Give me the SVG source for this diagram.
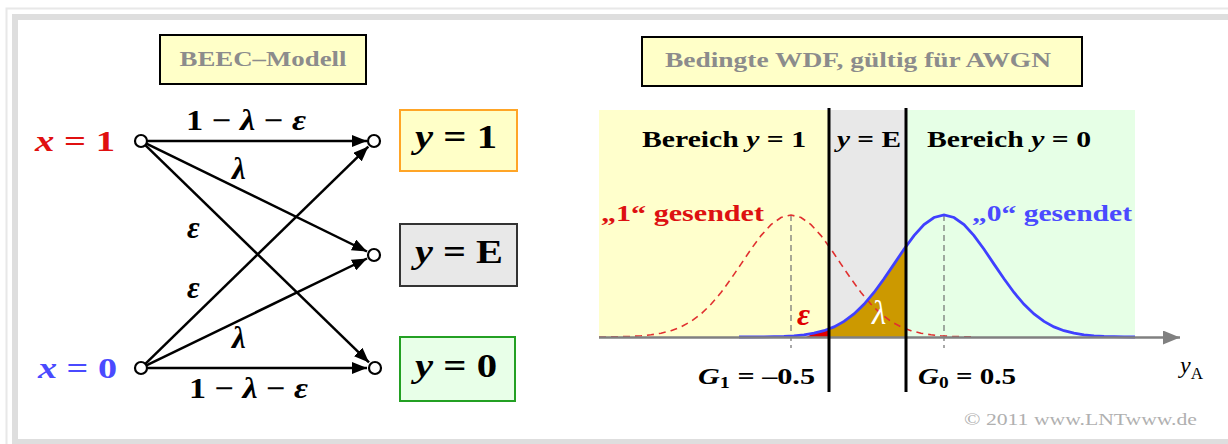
<svg xmlns="http://www.w3.org/2000/svg" width="1228" height="444" viewBox="0 0 1228 444">
<style>
text{font-family:"Liberation Serif","Times New Roman",serif;font-weight:bold}
.it{font-style:italic}
.ttl{fill:#8c8c8c;font-size:22px}
.lbl{font-size:26px;fill:#000}
.gk{font-size:31px;fill:#000;font-style:italic}
.out{font-size:33px;fill:#000}
.edge{stroke:#000;stroke-width:2.5;fill:none;marker-end:url(#ah)}
.node{fill:#fff;stroke:#000;stroke-width:2.2}
.reg{font-size:24px;fill:#000}
</style>
<defs>
<marker id="ah" markerUnits="userSpaceOnUse" markerWidth="16" markerHeight="12" refX="15" refY="6" orient="auto">
<path d="M0,0 L15,6 L0,12 Z" fill="#000"/>
</marker>
<marker id="axh" markerUnits="userSpaceOnUse" markerWidth="18" markerHeight="14" refX="17" refY="7" orient="auto">
<path d="M0,0 L17,7 L0,14 Z" fill="#808080"/>
</marker>
</defs>
<rect width="1228" height="444" fill="#fff"/>
<g id="frame">
<path d="M6.5,444 V8.5 H1228" fill="none" stroke="#e8e8e8" stroke-width="2"/>
<rect x="15" y="17" width="1230" height="425" fill="none" stroke="#dedede" stroke-width="6"/>
</g>

<g id="title-beec">
<rect x="160" y="35" width="206" height="49" fill="#ffffc8" stroke="#000" stroke-width="2"/>
<text x="263" y="66" text-anchor="middle" class="ttl" textLength="167" lengthAdjust="spacingAndGlyphs">BEEC–Modell</text>
</g>

<g id="x1">
<text x="35" y="151" font-size="30" fill="#e01010" textLength="80" lengthAdjust="spacingAndGlyphs"><tspan class="it">x</tspan> = 1</text>
<circle cx="141" cy="141" r="6" class="node"/>
</g>
<g id="x0">
<text x="38" y="378" font-size="30" fill="#4a4aff" textLength="79" lengthAdjust="spacingAndGlyphs"><tspan class="it">x</tspan> = 0</text>
<circle cx="141" cy="368" r="6" class="node"/>
</g>

<g id="y1">
<circle cx="374" cy="141" r="6" class="node"/>
<rect x="400" y="110" width="117" height="61" fill="#ffffc8" stroke="#ffa526" stroke-width="2"/>
<text x="415" y="148" class="out" textLength="82" lengthAdjust="spacingAndGlyphs"><tspan class="it">y</tspan> = 1</text>
</g>
<g id="yE">
<circle cx="374" cy="255" r="6" class="node"/>
<rect x="400" y="224" width="117" height="62" fill="#e8e8e8" stroke="#333" stroke-width="2"/>
<text x="415" y="263" class="out" textLength="88" lengthAdjust="spacingAndGlyphs"><tspan class="it">y</tspan> = E</text>
</g>
<g id="y0">
<circle cx="375" cy="368" r="6" class="node"/>
<rect x="400" y="337" width="115" height="64" fill="#e8ffe8" stroke="#23a023" stroke-width="2"/>
<text x="415" y="377" class="out" textLength="82" lengthAdjust="spacingAndGlyphs"><tspan class="it">y</tspan> = 0</text>
</g>

<g id="connectors">
<path class="edge" d="M147,141 L367,141"/>
<path class="edge" d="M146.4,143.6 L367,251.5"/>
<path class="edge" d="M145.3,145.2 L369,362.4"/>
<path class="edge" d="M145.3,363.8 L368.3,146.6"/>
<path class="edge" d="M146.4,365.4 L367,258.5"/>
<path class="edge" d="M147,368 L367,368"/>
</g>

<g id="edge-labels">
<text x="186" y="130" font-size="29" fill="#000" textLength="120" lengthAdjust="spacingAndGlyphs">1 − <tspan class="it">λ</tspan> − <tspan class="it">ε</tspan></text>
<text x="232" y="179" class="gk">λ</text>
<text x="187" y="238" class="gk">ε</text>
<text x="187" y="298" class="gk">ε</text>
<text x="232" y="348" class="gk">λ</text>
<text x="189" y="398" font-size="29" fill="#000" textLength="119" lengthAdjust="spacingAndGlyphs">1 − <tspan class="it">λ</tspan> − <tspan class="it">ε</tspan></text>
</g>

<g id="title-wdf">
<rect x="642" y="37" width="440" height="49" fill="#ffffc8" stroke="#000" stroke-width="2"/>
<text x="665" y="67" class="ttl" textLength="386" lengthAdjust="spacingAndGlyphs">Bedingte WDF, gültig für AWGN</text>
</g>

<g id="plot">
<rect x="599" y="110" width="230" height="227" fill="#ffffcc"/>
<rect x="829" y="110" width="77" height="227" fill="#e8e8e8"/>
<rect x="906" y="110" width="229" height="227" fill="#e6ffe6"/>
<path d="M829,337 L829,328.8 L834,326.9 L844,321.4 L854,314 L864,304.3 L874,292.5 L884,278.8 L894,264.1 L904,249.2 L906,246.5 L906,337 Z" fill="#cc9900"/>
<path d="M806,337 L814,333.2 L824,330.7 L829,328.8 L829,337 Z" fill="#e00000"/>
<path d="M791,215 V348 M944,215 V348" stroke="#707070" stroke-width="1.2" stroke-dasharray="6,4" fill="none"/>
<path d="M599,337 L611,336.9 L621,336.7 L631,336.4 L641,335.8 L651,334.8 L661,333.2 L671,330.7 L681,326.9 L691,321.4 L701,314 L711,304.3 L721,292.5 L731,278.8 L741,264.1 L751,249.2 L761,235.6 L771,224.6 L781,217.5 L791,215 L801,217.5 L811,224.6 L821,235.6 L831,249.2 L841,264.1 L851,278.8 L861,292.5 L871,304.3 L881,314 L891,321.4 L901,326.9 L911,330.7 L921,333.2 L931,334.8 L941,335.8 L951,336.4 L961,336.7 L971,336.9" fill="none" stroke="#e03030" stroke-width="1.6" stroke-dasharray="7,5"/>
<path d="M739,337 L764,336.9 L774,336.7 L784,336.4 L794,335.8 L804,334.8 L814,333.2 L824,330.7 L834,326.9 L844,321.4 L854,314 L864,304.3 L874,292.5 L884,278.8 L894,264.1 L904,249.2 L914,235.6 L924,224.6 L934,217.5 L944,215 L954,217.5 L964,224.6 L974,235.6 L984,249.2 L994,264.1 L1004,278.8 L1014,292.5 L1024,304.3 L1034,314 L1044,321.4 L1054,326.9 L1064,330.7 L1074,333.2 L1084,334.8 L1094,335.8 L1104,336.4 L1114,336.7 L1124,336.9 L1135,337" fill="none" stroke="#4040ff" stroke-width="2.8"/>
<line x1="599" y1="337.5" x2="1180" y2="337.5" stroke="#808080" stroke-width="2.5" marker-end="url(#axh)"/>
<line x1="829" y1="108" x2="829" y2="392" stroke="#000" stroke-width="3"/>
<line x1="906" y1="108" x2="906" y2="392" stroke="#000" stroke-width="3"/>
<text x="642" y="147" class="reg" textLength="164" lengthAdjust="spacingAndGlyphs">Bereich <tspan class="it">y</tspan> = 1</text>
<text x="837" y="147" class="reg" textLength="64" lengthAdjust="spacingAndGlyphs"><tspan class="it">y</tspan> = E</text>
<text x="927" y="147" class="reg" textLength="164" lengthAdjust="spacingAndGlyphs">Bereich <tspan class="it">y</tspan> = 0</text>
<text x="601" y="221" font-size="23" fill="#dd1111" textLength="163" lengthAdjust="spacingAndGlyphs">„1“ gesendet</text>
<text x="972" y="221" font-size="23" fill="#4a4aff" textLength="160" lengthAdjust="spacingAndGlyphs">„0“ gesendet</text>
<text x="797" y="325" font-size="32" fill="#e00000" class="it">ε</text>
<text x="872" y="324" font-size="33" fill="#fff" font-style="italic" style="font-weight:normal">λ</text>
<text x="698" y="384" font-size="24" fill="#000" textLength="117" lengthAdjust="spacingAndGlyphs"><tspan class="it">G</tspan><tspan font-size="16" dy="4">1</tspan><tspan dy="-4"> = –0.5</tspan></text>
<text x="918" y="384" font-size="24" fill="#000" textLength="98" lengthAdjust="spacingAndGlyphs"><tspan class="it">G</tspan><tspan font-size="16" dy="4">0</tspan><tspan dy="-4"> = 0.5</tspan></text>
<text x="1180" y="373" font-size="24" fill="#000" style="font-weight:normal"><tspan font-style="italic">y</tspan><tspan font-size="17" dy="6">A</tspan></text>
</g>
<text x="964" y="425" font-size="17" fill="#b0b0b0" style="font-weight:normal" textLength="233" lengthAdjust="spacingAndGlyphs">© 2011 www.LNTwww.de</text>
</svg>
